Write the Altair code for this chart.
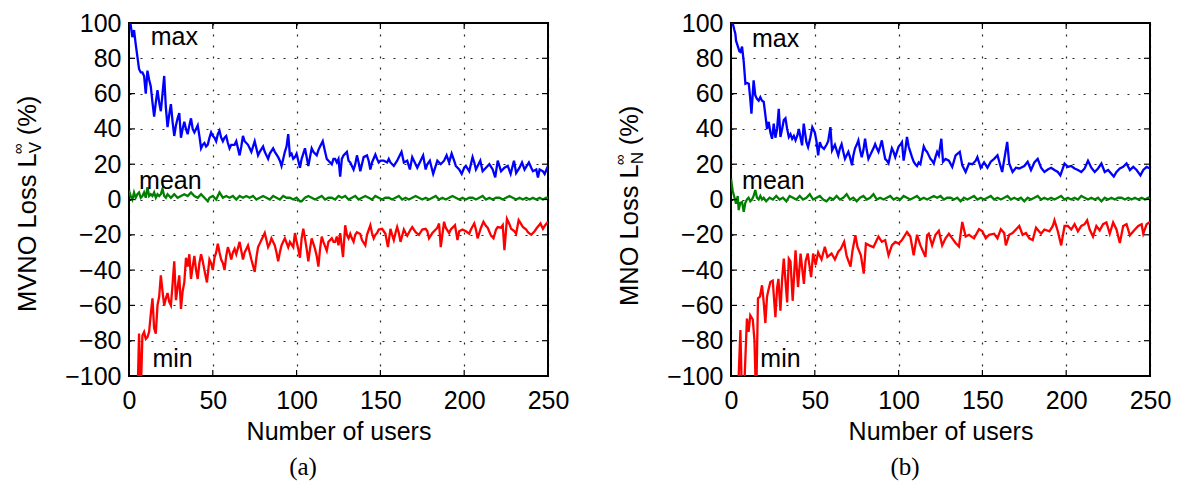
import altair as alt
import pandas as pd

# ---------------- data ----------------
# Panel (a): MVNO loss
a_max_x = [0,1,2,3,4,5,6,7,8,9,10,11,12,13,14,15,16,17,18,19,20,21,22,23,24,25,26,27,28,29,30,31,32,33,34,35,36,37,38,39,40,41,42,43,44,45,46,47,48,49,50,51,52,53,54,55,56,57,58,59,60,61,63,64,66,67,68,69,71,72,73,74,75,76,77,78,80,81,83,84,86,87,89,90,91,92,93,94,95,96,97,98,99,100,101,102,103,105,106,107,108,109,110,112,113,114,115.6,117,118,119,121,122,123,124,125,126,127,128,130,131,132,134,135,136,137,138,139,140,142,143,144,145,147,148,149,150,152,154,155,156,158,160,161,162.6,164,166,167.6,169,171,172,174,175.5,177,178,179.5,181.5,183,184,186,188,189.5,191,192.5,194,195,197,198.5,200,201,203,205,206,207,209.6,211,213,215,217,218.5,220,222,224,226,227.7,229.7,231,233,234.5,236,238.6,240,241,243,244,245,247,248,250]
a_max_y = [100,99,92,96,88,81,74,72,72,70,60,73,68,64,55,47,55,62,55,50,60,70,52,41,48,54,44,36,42,46,49,35,40,44,40,37,42,46,40,38,40,42,36,29,31,32,30,31,35,38,36,35,33,37,39,35,33,35,36,32,29,31,31,33,25,30,36,33,31,29,27,30,33,29,25,27,30,27,23,26,29,27,24,22,19,23,27,30,37,25,26,23,24,26,22,18,23,29,24,19,24,29,27,25,28,30,33,27,23,22,20,23,23,21,23,13,23,25,27,22,21,17,20,25,21,16,20,24,25,22,17,21,25.5,23,21,22,22,21,23,21,19,22,24,27,21,22,17,24,20,18,22,25,17,20,22,14.5,19,22,20,22,25,21,26,22,19,17,14.5,18,19,16,24,21,17,22,16,18,20,17,12.5,22,16,18,19,14.5,22,15,18,21,17,21,18,16,17,12.5,17,16,14.5,19]

a_mean_x = [0,1,2,3,4,5,6,7,8,9,10,11,12,13,14,15,16,17,18,19,20,21,22,23,24,25,27,29,31,33,35,37,39,41,43,45,47,48,50,52,54,56,58,60,62,64,66,68,70,72,74,76,78,80,82,84,86,88,90,92,94,96,98,100,102,103,105,107,109,111,113,115,117,119,121,123,125,127,129,131,133,135,137,139,141,143,145,147,149,151,153,155,157,159,161,163,165,167,169,171,173,175,177,179,181,183,185,187,189,191,193,195,197,199,201,203,205,207,209,211,213,215,217,219,221,223,225,227,229,231,233,235,237,239,241,243,245,247,249,250]
a_mean_y = [5,2,0,4,1,3,4,1,2,4,1,7,2,3,2,4,1,3,2,3,6,2,1,3,2,1,3,1,2,3,2,4,2,1,3,1,-1,1,2,0,4,1,2,1,2,0,2,1,2,1,2,0,1,2,1,0,2,1,0,2,1,1,0,1,-1,-1,1,2,1,0,1,2,0,1,1,0,2,1,2,0,1,2,0,1,2,1,0,2,1,0,1,1,0,1,2,0,1,0,1,2,1,0,1,0,1,2,0,1,0,1,2,1,0,1,0,1,1,0,1,2,0,1,0,1,1,0,1,2,1,0,1,0,1,0,1,0,1,0,1,1]

a_min_x = [5,6,7,8,9,10,11,12,13,14,15,16,17,18,19,20,21,22,23,24,25,26,27,28,29,30,31,32,33,34,35,36,37,38,39,40,41,42,43,44,45,46.5,48,49,50,51,52,53,54,55,56,57,58,59,60,61,62,63,64,66,67,68,69,70,71,72,73,75,76,77,78,79,80,81,82,83,84,85,87,88,89,90,91,92,93,95,96,98,99,100,101,102,103,104,105,106,107,108,109,110,111,112,113,114,115,116,118,119,121,122,123,124,125,126,127.7,129,130,131,132,133,134,135,136,138,139,141,142,144,145,146,147,148,149,151,152,153,154.5,156,157,158,159,160,161,162,164,165,166,168,169,171,173,175,177,178,179,181,182,184,185,186,188,189,191,192,194.5,196,197,199,201,203,204,206,207,208,210,211.5,213,214,216,217.5,219,220,222,223,224,225.5,227,228,230,231,232.5,234,235,237,238,240,242,243,245.5,247,248,250]
a_min_y = [-115,-76,-112,-77,-75,-79,-78,-75,-65,-56,-73,-76,-60,-55,-43,-52,-60,-56,-53,-58,-60,-48,-35,-57,-50,-43,-62,-52,-47,-33,-38,-31,-45,-38,-32,-40,-45,-36,-31,-35,-40,-47,-34,-36,-40,-33,-30,-25,-30,-34,-36,-40,-32,-27,-30,-34,-30,-28,-31,-24,-29,-34,-30,-28,-26,-30,-34,-41,-33,-27,-25,-23,-21,-19,-23,-27,-25,-22,-26,-30,-35,-30,-26,-24,-22,-27,-24,-27,-19,-24,-28,-33,-22,-16.5,-22,-28,-35,-28,-22,-25,-28,-32,-38,-28,-21,-24,-29,-24,-22,-24,-24,-21,-26,-19,-32.6,-14.6,-20,-22,-19.4,-22,-24,-20,-18.5,-19.5,-23,-26,-20,-14.6,-19,-22,-20,-19,-17,-16.6,-18,-19.4,-27,-16.6,-20,-23,-19,-15.6,-19,-24,-17,-19,-20.5,-17,-15.6,-18.5,-20,-17,-16.6,-18,-22,-19,-18,-16,-13.6,-27,-12.6,-16,-19,-17,-14.6,-23,-18,-17,-18,-19.4,-17,-13.6,-17,-22,-16,-12.6,-15,-16,-20.5,-22,-17,-15.6,-16,-14.6,-28.7,-11,-14,-16.6,-18,-19.4,-11.7,-14,-15.6,-17,-18.5,-20,-18,-16.6,-13.6,-16.6,-15,-12.6]

# Panel (b): MNO loss
b_max_x = [0,1,2,2.6,3,4,5,5.6,6.6,7.6,8.6,9.6,10.6,11.4,12.2,13.5,14.5,15.5,16.5,17.5,18.5,19.5,20.5,21.5,22.5,23.5,24.5,25.5,26.5,27.5,28.5,29.5,30.5,31.5,32.5,33.5,34.5,35.5,36.5,37.5,38.5,39.5,40.5,41.5,42.4,43.4,45,46,47.3,48.5,50,51,52,53,54,55.5,57,58,59.3,60.3,62,63,64,65,66,67,68,69,70,71,72.2,73,74,75,76,77,78,79,80,81,82,83,84,85,86,87,88,89,90,91,92,93,94,95,96,97,98,99,100,101,102,103,104,105,106,107,108,109,110,111,112,113,114,115,116,117,118,119,120,121,122,123,124,125.5,126.5,128,130,132,134,136.5,138,140,142,144,146,147,149,151,153,155,157,159,161.8,163.8,164.8,166,168,170,172,175,177,179,181,183,185,187,189,191,193,195,196.5,199,201,203,205,207,209,211,213,215,217,219,221,223,225,228.4,230,232,234,236,238,240,242,244.3,246,248,250]
b_max_y = [100,100,96,94,90,87,84,83.6,86.6,78,65.6,66,65.6,58,48.6,67.5,59,57,56,58,56,55.4,48,40,44,38,34.4,43,35,40,51.4,35.4,40,45,46,40,35.4,37,34.4,36,33.5,36,40,35,30.7,43,32.5,29.7,35,41,38,33,25,32.5,30,28.7,31,33,41,27.8,31,28,25,29,31.4,27,23,25,27,24,19.4,25,29,31,33.5,28,24,28,34.4,28,23,25,27,29,31.4,29,27,30,33.5,28,23,22,20.5,25,29,27,24,27,30,31,32.5,22,28,35.4,30,27,24,21.4,20,19,21,20,25,30,28,27,25,23,22,20.4,24,27,25,34.4,21.4,23,22,18.4,25,27,19.4,15.6,20.4,20,22,24,18,21,18,21.4,23,25,15.6,27,32.6,20.4,15.6,18,17.6,19,21.4,16.7,21,23,18,15.6,17,18,16.7,15.6,13.7,20.4,18.5,19,17.6,16.7,15.6,17.6,22,18,15.6,17.6,20.4,15.6,16.7,13,15.6,17.6,18.5,20.4,16.7,18.5,16.7,13.7,16.7,18.5,17.6]

b_mean_x = [0,1,2,3,4,4.6,5.5,6.6,7.6,8.5,9.5,10.5,11.5,12.5,13.5,14.5,15.5,16.5,17.5,18.5,19.5,21,23,25,27,29,31,33,35,37,39,41,43,45,47,49,51,53,55,57,59,61,63,65,67,69,71,73,75,77,79,81,83,85,87,89,91,93,95,97,99,101,103,105,107,109,111,113,115,117,119,121,123,125,127,129,131,133,135,137,139,141,143,145,147,149,151,153,155,157,159,161,163,165,167,169,171,173,175,177,179,181,183,185,187,189,191,193,195,197,199,201,203,205,207,209,211,213,215,217,219,221,223,225,227,229,231,233,235,237,239,241,243,245,247,249,250]
b_mean_y = [11.8,5,1.4,-2.4,2,-6,-2,-1.4,-7,-2,0,1,-1,0,2,5.4,1,0,2,0,1,-1,1,0,2,0,1,-1,2,1,0,2,0,1,3,0,1,2,0,-1,1,0,2,0,1,3,0,1,-1,1,2,0,1,3,0,1,0,1,2,0,1,0,2,1,0,1,2,0,1,0,1,2,1,2,0,1,1,0,1,-1,1,0,1,2,0,1,0,1,2,0,1,0,1,2,0,1,0,1,-1,1,0,1,2,0,1,0,1,0,1,2,0,1,0,1,0,2,1,0,1,0,1,-1,1,0,1,0,1,1,0,1,0,1,0,1,0,1,0]

b_min_x = [4,5.6,6.6,8,9.5,10.5,11.5,13,14,15,16.1,17.3,18.5,19.5,20.5,21.5,22.5,23.5,24.9,26.5,27.5,28.3,29.5,30.5,31.5,33.5,34.5,35.5,36.8,38.5,40,41.5,43.5,44.5,45.8,47.8,49,50.5,52,54,56,57.5,60,62,64,65.5,67.5,69,71.3,72.5,74.2,75.5,77.5,79.2,80.5,82.5,85,86.5,88,90,92,94,96,98,100,102,105,107,109,111,113,116,117,118,120,122,124,126,128,130,132,134,136,138,140,142,145,148,150,152,154,157,159,161,163,164,166,168,171,172,174,176,178,180,182,185,187,190,192,193,195,197,199,201,203,205,207,209,211,212.5,214,216,218,220,222,224,226,228,230,232,234,236,238,241,243,245,246,248,250]
b_min_y = [-115,-74,-115,-104,-67.5,-75,-65.6,-68,-80,-115,-56,-55,-48.6,-58,-70,-55,-50.6,-46.8,-46,-66.7,-50,-45,-63,-45,-33.5,-58.3,-33.5,-35,-57.4,-28.8,-49.6,-30.6,-47.8,-35,-30.6,-44,-30.6,-37,-30,-34,-26.8,-32.5,-30.6,-34,-29.6,-28,-24,-32,-38,-29,-20.3,-27,-31.6,-42,-25,-26,-27,-24,-21,-24,-23,-31.6,-26,-24,-25,-23,-18.4,-21,-31.6,-20,-26,-32.5,-20.3,-19.4,-26,-20,-17.7,-26,-22,-19.4,-22,-24.6,-26.6,-12.7,-21,-20,-22,-16.8,-18,-22,-20,-19.4,-22,-16.8,-19,-26,-20,-19,-16,-15,-20,-19,-22,-23,-16,-19.4,-17,-18,-15,-11.8,-18,-26,-15,-15,-17,-14,-18,-15,-14,-11.8,-17,-21,-15,-17.5,-14,-13,-19.4,-13,-17,-24.6,-15,-14,-20.3,-17,-15,-14,-19.4,-14,-12.7]

x_ticks = [0, 50, 100, 150, 200, 250]
y_ticks = [-100, -80, -60, -40, -20, 0, 20, 40, 60, 80, 100]
series_names = ["max", "mean", "min"]
series_colors = ["#0000ff", "#008000", "#ff0000"]

# ---------------- styling ----------------
FONT = "Liberation Sans"
FS = 25
TFS = 25.5
W, H = 419, 353
TICK = 6

xscale = alt.Scale(domain=[0, 250], nice=False, zero=False)
yscale = alt.Scale(domain=[-100, 100], nice=False, zero=False)


def make_df(xs, ys, name):
    return pd.DataFrame({"x": xs, "y": ys, "series": name})


def panel(mx, my, ex, ey, nx, ny, ytitle, sub, caption, lab_pos):
    df = pd.concat([make_df(mx, my, "max"), make_df(ex, ey, "mean"), make_df(nx, ny, "min")])
    lines = alt.Chart(df).mark_line(strokeWidth=2.3, clip=True).encode(
        x=alt.X("x:Q", scale=xscale,
                axis=alt.Axis(values=x_ticks, tickCount=20, title="Number of users", grid=True,
                              labelPadding=12, titlePadding=6, labelOverlap=False)),
        y=alt.Y("y:Q", scale=yscale,
                axis=alt.Axis(values=y_ticks, tickCount=20, title=None, grid=True, labelPadding=8,
                              labelOverlap=False)),
        color=alt.Color("series:N", scale=alt.Scale(domain=series_names, range=series_colors), legend=None),
        order=alt.Order("x:Q"),
    )
    layers = [lines]
    one = alt.Data(values=[{"a": 1}])
    for name, (lx, ly) in zip(series_names, lab_pos):
        layers.append(alt.Chart(one).mark_text(text=name, align="left", baseline="alphabetic",
                                               font=FONT, fontSize=FS, color="black").encode(
            x=alt.X(datum=lx, scale=xscale), y=alt.Y(datum=ly, scale=yscale)))
    # inward ticks on all four sides
    xt = pd.DataFrame({"x": x_ticks[1:-1]})
    yt = pd.DataFrame({"y": y_ticks[1:-1]})
    for y0, y1 in [(H, H - TICK), (0, TICK)]:
        layers.append(alt.Chart(xt).mark_rule(color="black", strokeWidth=1.2).encode(
            x=alt.X("x:Q", scale=xscale), y=alt.value(y0), y2=alt.value(y1)))
    for x0, x1 in [(0, TICK), (W, W - TICK)]:
        layers.append(alt.Chart(yt).mark_rule(color="black", strokeWidth=1.2).encode(
            y=alt.Y("y:Q", scale=yscale), x=alt.value(x0), x2=alt.value(x1)))
    # y axis title with sub/superscript, rotated
    main, sub_txt = ytitle
    bx = -93
    by = sub[2]
    layers.append(alt.Chart(one).mark_text(text=main, angle=270, align="left", baseline="alphabetic",
                                           font=FONT, fontSize=TFS, color="black").encode(
        x=alt.value(bx), y=alt.value(by)))
    end_y = by - sub[0]
    layers.append(alt.Chart(one).mark_text(text=sub_txt, angle=270, align="left", baseline="alphabetic",
                                           font=FONT, fontSize=17, color="black").encode(
        x=alt.value(bx + 5), y=alt.value(end_y)))
    layers.append(alt.Chart(one).mark_text(text="\u221e", angle=270, align="left", baseline="alphabetic",
                                           font=FONT, fontSize=15, color="black").encode(
        x=alt.value(bx - 13), y=alt.value(end_y + 1)))
    layers.append(alt.Chart(one).mark_text(text="(%)", angle=270, align="left", baseline="alphabetic",
                                           font=FONT, fontSize=TFS, color="black").encode(
        x=alt.value(bx), y=alt.value(end_y - sub[1])))
    # caption
    layers.append(alt.Chart(one).mark_text(text=caption, align="center", baseline="alphabetic",
                                           font="Liberation Serif", fontSize=25, color="black").encode(
        x=alt.value(174), y=alt.value(452)))
    return alt.layer(*layers).properties(width=W, height=H)


pa = panel(a_max_x, a_max_y, a_mean_x, a_mean_y, a_min_x, a_min_y,
           ("MVNO Loss L", "V"), (158.7, 18, 289), "(a)", [(13, 87.4), (6, 6.1), (14, -95)])
pb = panel(b_max_x, b_max_y, b_mean_x, b_mean_y, b_min_x, b_min_y,
           ("MNO Loss L", "N"), (141.7, 19, 283), "(b)", [(12.5, 86.4), (6.6, 6.1), (17.5, -95)])

chart = alt.hconcat(pa, pb, spacing=42).properties(
    padding={"left": 10, "top": 10, "right": 0, "bottom": 0},
    background="white",
).configure_view(stroke="black", strokeWidth=2).configure_axis(
    labelFont=FONT, labelFontSize=FS, labelColor="black",
    titleFont=FONT, titleFontSize=FS, titleColor="black", titleFontWeight="normal",
    domain=False, ticks=False, labelFlush=False,
    gridColor="black", gridDash=[2, 9], gridWidth=1.2, gridOpacity=0.85,
)

chart.save("out.html", embed_options={"renderer": "svg", "actions": False})
